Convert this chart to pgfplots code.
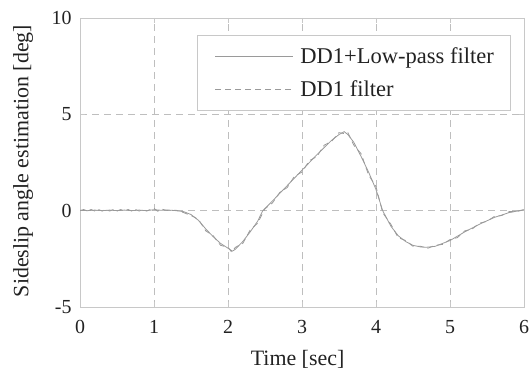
\documentclass[border=0pt]{standalone}
\usepackage{pgfplots}
\pgfplotsset{compat=1.18}
\usepackage{fontspec}
\setmainfont{Liberation Serif}
\definecolor{txt}{HTML}{222222}
\definecolor{axc}{HTML}{C8C8C8}
\definecolor{gridc}{HTML}{BEBEBE}
\definecolor{curve}{HTML}{9A9A9A}
\pgfplotsset{longline/.style={legend image code/.code={\path (-3bp,0bp) (83bp,0bp);\draw[##1] (0bp,0bp) -- (78bp,0bp);}}}
\begin{document}
\begin{tikzpicture}
\useasboundingbox (-80bp,-63bp) rectangle (449bp,307bp);
\begin{axis}[
  at={(0,0)}, anchor=south west,
  scale only axis, width=444bp, height=289bp,
  xmin=0, xmax=6, ymin=-5, ymax=10,
  xtick={0,1,2,3,4,5,6}, ytick={-5,0,5,10},
  axis line style={axc, line width=0.8pt},
  tick style={axc, line width=0.6pt}, tick align=inside, major tick length=5bp,
  grid=major, major grid style={gridc, dash pattern=on 7bp off 5bp, line width=0.7pt},
  tick label style={font=\fontsize{20}{22}\selectfont, text=txt},
  xticklabel style={yshift=-10bp},
  yticklabel style={xshift=-5bp},
  /pgf/number format/assume math mode=true,
  xlabel={Time [sec]}, ylabel={Sideslip angle estimation [deg]},
  label style={font=\fontsize{22}{24}\selectfont, text=txt},
  xlabel style={at={(axis description cs:0.49,-0.18)}, anchor=center},
  ylabel style={at={(axis description cs:-0.128,0.505)}, anchor=center},
  legend style={at={(axis description cs:0.9685,0.941)}, anchor=north east, draw=axc, fill=white,
    font=\fontsize{22.6}{24}\selectfont, text=txt, row sep=12bp, inner xsep=14bp, inner ysep=10bp},
  legend cell align=left,
]
\addplot[curve, line width=0.8pt, longline] coordinates {
(0,0.02)(0.1,0.0)(0.2,0.03)(0.3,0.0)(0.4,0.03)(0.5,0.0)(0.6,0.03)(0.7,0.0)(0.8,0.03)(0.9,0.0)(1.0,0.05)(1.1,0.02)(1.2,0.03)(1.3,0.0)
(1.4,-0.05)(1.5,-0.2)(1.6,-0.5)(1.7,-0.95)(1.8,-1.35)(1.9,-1.7)(2.0,-1.95)(2.06,-2.1)(2.1,-2.0)(2.2,-1.6)(2.3,-1.1)(2.4,-0.55)(2.47,0.0)
(2.6,0.5)(2.8,1.3)(3.0,2.1)(3.2,2.9)(3.4,3.65)(3.5,3.95)(3.57,4.1)(3.62,3.95)(3.7,3.55)(3.8,2.8)(3.9,2.0)(4.0,1.1)(4.09,0.0)
(4.2,-0.8)(4.3,-1.3)(4.4,-1.6)(4.5,-1.8)(4.6,-1.88)(4.68,-1.9)(4.8,-1.85)(5.0,-1.55)(5.2,-1.1)(5.4,-0.7)(5.6,-0.35)(5.8,-0.1)(6.0,0.05)
};
\addlegendentry{DD1+Low-pass filter}
\addplot[curve, line width=0.8pt, dash pattern=on 6bp off 4bp, longline] coordinates {
(0,0.0)(0.05,0.06)(0.1,-0.02)(0.15,0.06)(0.2,-0.02)(0.25,0.06)(0.3,-0.02)(0.35,0.06)(0.4,-0.02)(0.45,0.06)(0.5,-0.02)(0.55,0.06)(0.6,-0.02)(0.65,0.06)(0.7,-0.02)(0.75,0.06)(0.8,-0.02)(0.85,0.06)(0.9,-0.02)(0.95,0.06)(1.0,0.12)(1.05,-0.03)(1.1,0.08)(1.2,0.0)(1.3,0.02)
(1.4,-0.1)(1.5,-0.25)(1.6,-0.45)(1.7,-1.05)(1.8,-1.3)(1.9,-1.8)(2.0,-1.9)(2.05,-2.15)(2.1,-1.9)(2.2,-1.7)(2.3,-1.0)(2.4,-0.65)(2.5,0.1)
(2.6,0.4)(2.7,0.95)(2.8,1.2)(2.9,1.8)(3.0,2.0)(3.1,2.6)(3.2,2.8)(3.3,3.4)(3.4,3.6)(3.5,4.05)(3.57,4.0)(3.62,4.05)(3.7,3.4)(3.8,2.95)(3.9,1.85)(4.0,1.25)(4.09,-0.1)
(4.2,-0.7)(4.3,-1.4)(4.4,-1.55)(4.5,-1.85)(4.6,-1.85)(4.7,-1.95)(4.8,-1.8)(4.9,-1.75)(5.0,-1.5)(5.1,-1.4)(5.2,-1.05)(5.3,-0.95)(5.4,-0.65)(5.5,-0.55)(5.6,-0.3)(5.7,-0.25)(5.8,-0.05)(5.9,-0.05)(6.0,0.05)
};
\addlegendentry{DD1 filter}
\end{axis}
\end{tikzpicture}
\end{document}
